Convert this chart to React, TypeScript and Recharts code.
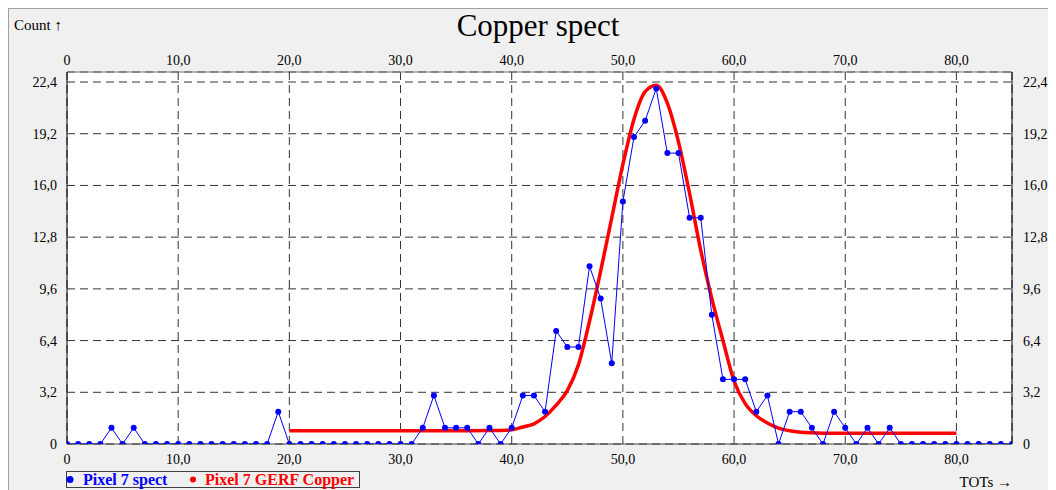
import { LineChart, Line, XAxis, YAxis, CartesianGrid } from 'recharts';

// TOT bins 0..85 and their counts (Pixel 7 spect)
const spectCounts = [
  0, 0, 0, 0, 1, 0, 1, 0, 0, 0,
  0, 0, 0, 0, 0, 0, 0, 0, 0, 2,
  0, 0, 0, 0, 0, 0, 0, 0, 0, 0,
  0, 0, 1, 3, 1, 1, 1, 0, 1, 0,
  1, 3, 3, 2, 7, 6, 6, 11, 9, 5,
  15, 19, 20, 22, 18, 18, 14, 14, 8, 4,
  4, 4, 2, 3, 0, 2, 2, 1, 0, 2,
  1, 0, 1, 0, 1, 0, 0, 0, 0, 0,
  0, 0, 0, 0, 0, 0,
];

// fitted GERF curve
const gerfTots = [20, 30, 36, 38, 39, 40, 41, 42, 43, 44, 45, 46, 47, 48, 49, 50, 51, 52, 53, 54, 55, 56, 57, 58, 59, 60, 61, 62, 63, 64, 65, 66, 67, 68, 70, 75, 80];
const gerfCounts = [0.82, 0.82, 0.82, 0.83, 0.84, 0.88, 1.05, 1.25, 1.7, 2.4, 3.3, 4.9, 7.6, 10.7, 14.0, 17.3, 20.1, 21.8, 22.2, 21.1, 18.7, 15.5, 12.0, 9.0, 6.4, 3.9, 2.5, 1.75, 1.3, 0.98, 0.82, 0.73, 0.69, 0.67, 0.66, 0.66, 0.66];

const xTicks = [0, 10, 20, 30, 40, 50, 60, 70, 80];
const yTicks = [0, 3.2, 6.4, 9.6, 12.8, 16, 19.2, 22.4];

const spectData = spectCounts.map((count, i) => ({ tot: i, count }));
const gerfData = gerfTots.map((tot, i) => ({ tot, count: gerfCounts[i] }));

const fmt = (v: number) => (v === 0 ? '0' : v.toFixed(1).replace('.', ','));

const font = 'Liberation Serif, Times New Roman, serif';
const tick = { fontFamily: font, fontSize: 14, fill: '#000' };

const W = 1047;
const H = 481;

const App = () => {
  return (
    <div
      style={{
        position: 'relative',
        width: W,
        height: H,
        background: '#f0f0f0',
        borderTop: '1px solid #a0a0a0',
        borderLeft: '1px solid #a0a0a0',
      }}
    >
      <LineChart width={W} height={H} margin={{ top: 30, right: 0, bottom: 16, left: 8 }}>
        <CartesianGrid fill="#fff" stroke="#333" strokeDasharray="8 5" />
        <XAxis
          dataKey="tot"
          type="number"
          domain={[0, 85]}
          ticks={xTicks}
          tickFormatter={fmt}
          tickLine={false}
          tickMargin={4}
          axisLine={{ stroke: '#444' }}
          tick={tick}
          height={30}
          allowDataOverflow
        />
        <XAxis
          xAxisId="top"
          orientation="top"
          dataKey="tot"
          type="number"
          domain={[0, 85]}
          ticks={xTicks}
          tickFormatter={fmt}
          tickLine={false}
          tickMargin={1}
          axisLine={{ stroke: '#777' }}
          tick={tick}
          height={33}
          allowDataOverflow
        />
        <YAxis
          type="number"
          domain={[0, 23.02]}
          ticks={yTicks}
          tickFormatter={fmt}
          tickLine={false}
          tickMargin={4}
          axisLine={{ stroke: '#000' }}
          tick={tick}
          width={50}
          allowDataOverflow
        />
        <YAxis
          yAxisId="right"
          orientation="right"
          type="number"
          domain={[0, 23.02]}
          ticks={yTicks}
          tickFormatter={fmt}
          tickLine={false}
          tickMargin={5}
          axisLine={{ stroke: '#000' }}
          tick={{ ...tick, textAnchor: 'start' }}
          width={44}
          allowDataOverflow
        />
        <Line
          data={gerfData}
          dataKey="count"
          type="monotone"
          stroke="#ff0000"
          strokeWidth={3.5}
          dot={false}
          isAnimationActive={false}
        />
        <Line
          data={spectData}
          dataKey="count"
          type="linear"
          stroke="#0000ff"
          strokeWidth={1}
          dot={{ r: 3, fill: '#0000ff', stroke: 'none' }}
          isAnimationActive={false}
        />
      </LineChart>
      <svg
        width={W}
        height={H}
        style={{ position: 'absolute', left: 0, top: 0, pointerEvents: 'none' }}
        fontFamily={font}
      >
        <text x={529} y={27} textAnchor="middle" fontSize={31} fill="#000">
          Copper spect
        </text>
        <text x={5} y={21} fontSize={15} fill="#000">
          Count ↑
        </text>
        <text x={1003} y={478} textAnchor="end" fontSize={15} fill="#000">
          TOTs →
        </text>
        <rect x={57.5} y={462.5} width={293} height={16} fill="none" stroke="#404040" />
        <circle cx={61} cy={470.5} r={3.5} fill="#0000ff" />
        <text x={74} y={475.5} fontSize={16} fontWeight="bold" fill="#0000ff">
          Pixel 7 spect
        </text>
        <circle cx={184} cy={470.5} r={3} fill="#ff0000" />
        <text x={196} y={475.5} fontSize={16} fontWeight="bold" fill="#ff0000">
          Pixel 7 GERF Copper
        </text>
      </svg>
    </div>
  );
};

export default App;
